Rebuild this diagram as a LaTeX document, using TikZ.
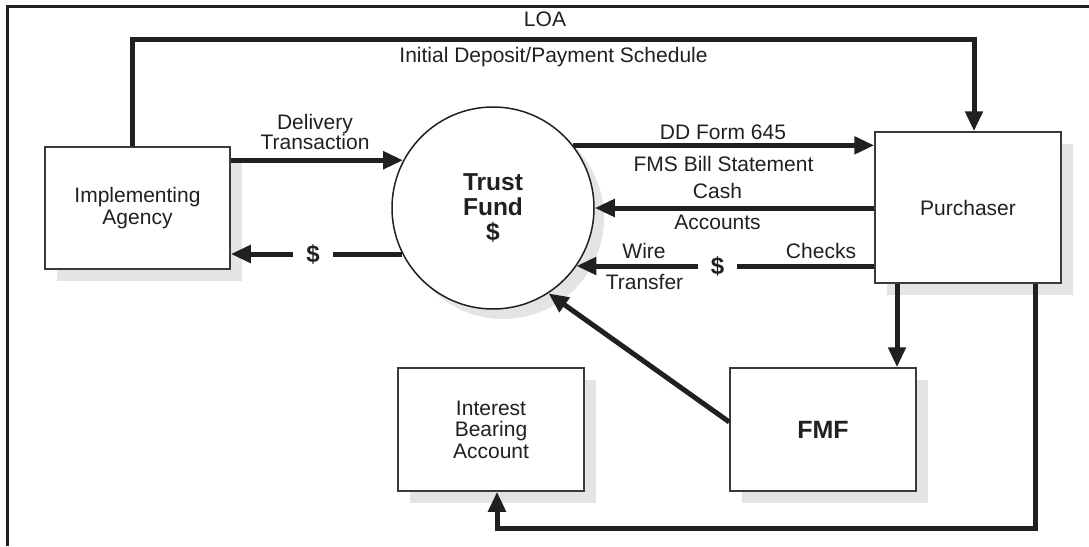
\documentclass[tikz,border=0pt]{standalone}
\usepackage{fontspec}
\setmainfont{Liberation Sans}
\usetikzlibrary{arrows.meta,shadows}
\definecolor{ink}{HTML}{231F20}
\definecolor{edge}{HTML}{3A3A3A}
\definecolor{shade}{HTML}{E4E4E6}
\begin{document}
\begin{tikzpicture}[x=1pt,y=-1pt,
  lbl/.style={text=ink, font=\fontsize{21}{21}\selectfont, inner sep=0pt, anchor=base},
  money/.style={text=ink, font=\bfseries\fontsize{24}{24}\selectfont, inner ysep=2pt},
  box/.style={draw=edge, line width=1.5pt, fill=white, minimum width=186pt,
    minimum height=123pt, text=ink, align=center,
    font=\fontsize{21}{21.5}\selectfont,
    drop shadow={shadow xshift=12pt, shadow yshift=-12pt, fill=shade, opacity=1}},
  flow/.style={line width=5pt, draw=ink, -{Triangle[length=20pt,width=17pt]}},
  wire/.style={line width=5pt, draw=ink}]
\useasboundingbox (0,0) rectangle (1089,546);

% frame edges
\draw[line width=3pt, ink] (7,546) -- (7,6) -- (1089,6);

% entities
\node[box, minimum width=185pt, minimum height=122pt] (ia) at (137.5,208) {Implementing\\Agency};
\node[box, minimum height=151pt] (pu) at (968,207.5) {Purchaser};
\node[box] (fmf) at (823,429.5) {\bfseries\fontsize{25}{26}\selectfont FMF};
\node[box] (iba) at (491,429.5) {Interest\\Bearing\\Account};
\node[circle, draw=ink, line width=1.5pt, fill=white, minimum size=202pt, inner sep=0pt,
  align=center, text=ink, font=\bfseries\fontsize{24.5}{25}\selectfont,
  drop shadow={shadow xshift=10pt, shadow yshift=-10pt, fill=shade, opacity=1}]
  (tf) at (493,208) {Trust\\Fund\\\$};

% LOA route along the top
\coordinate (loaL) at (132,39.5);
\coordinate (loaR) at (974,39.5);
\draw[flow] (loaL |- ia.north) -- (loaL) -- (loaR) -- (loaR |- pu.north);
\node[lbl] (loa) at (545,27) {LOA};
\node[lbl] (ids) at (553.5,62) {Initial Deposit/Payment Schedule};

% implementing agency <-> trust fund
\draw[flow] (ia.east |- tf.152.3) -- (tf.152.3);
\node[lbl] (del) at (315,129) {Delivery};
\node[lbl] (trn) at (315,149) {Transaction};
\node[money, inner xsep=13pt] (d1) at (313,254) {\$};
\draw[wire] (tf.207.1 |- d1) -- (d1.east);
\draw[flow] (d1.west) -- (ia.east |- d1);

% trust fund <-> purchaser
\draw[flow] (tf.38.6) -- (pu.west |- tf.38.6);
\node[lbl] (dd) at (723,139) {DD Form 645};
\node[lbl] (fms) at (723.5,171) {FMS Bill Statement};
\draw[flow] (pu.west |- tf.east) -- (tf.east);
\node[lbl] (cash) at (717.5,198) {Cash};
\node[lbl] (acc) at (717.5,229) {Accounts};
\node[money, inner xsep=13pt] (d2) at (717.5,266) {\$};
\draw[wire] (pu.west |- d2) -- (d2.east);
\draw[flow] (d2.west) -- (tf.-35 |- d2);
\node[lbl] (wire) at (644,258) {Wire};
\node[lbl] (xfer) at (644.5,289) {Transfer};
\node[lbl] (chk) at (821,258) {Checks};

% purchaser -> FMF, purchaser -> interest bearing account
\draw[flow] ([xshift=-71pt]pu.south) -- ([xshift=-71pt]pu.south |- fmf.north);
\coordinate (bot) at (1035,528);
\draw[flow] (bot |- pu.south) -- (bot) -- ([xshift=6pt]iba.south |- bot) -- ([xshift=6pt]iba.south);

% FMF -> trust fund
\draw[flow] ([yshift=7.5pt]fmf.west) -- (tf.-57);
\end{tikzpicture}
\end{document}
